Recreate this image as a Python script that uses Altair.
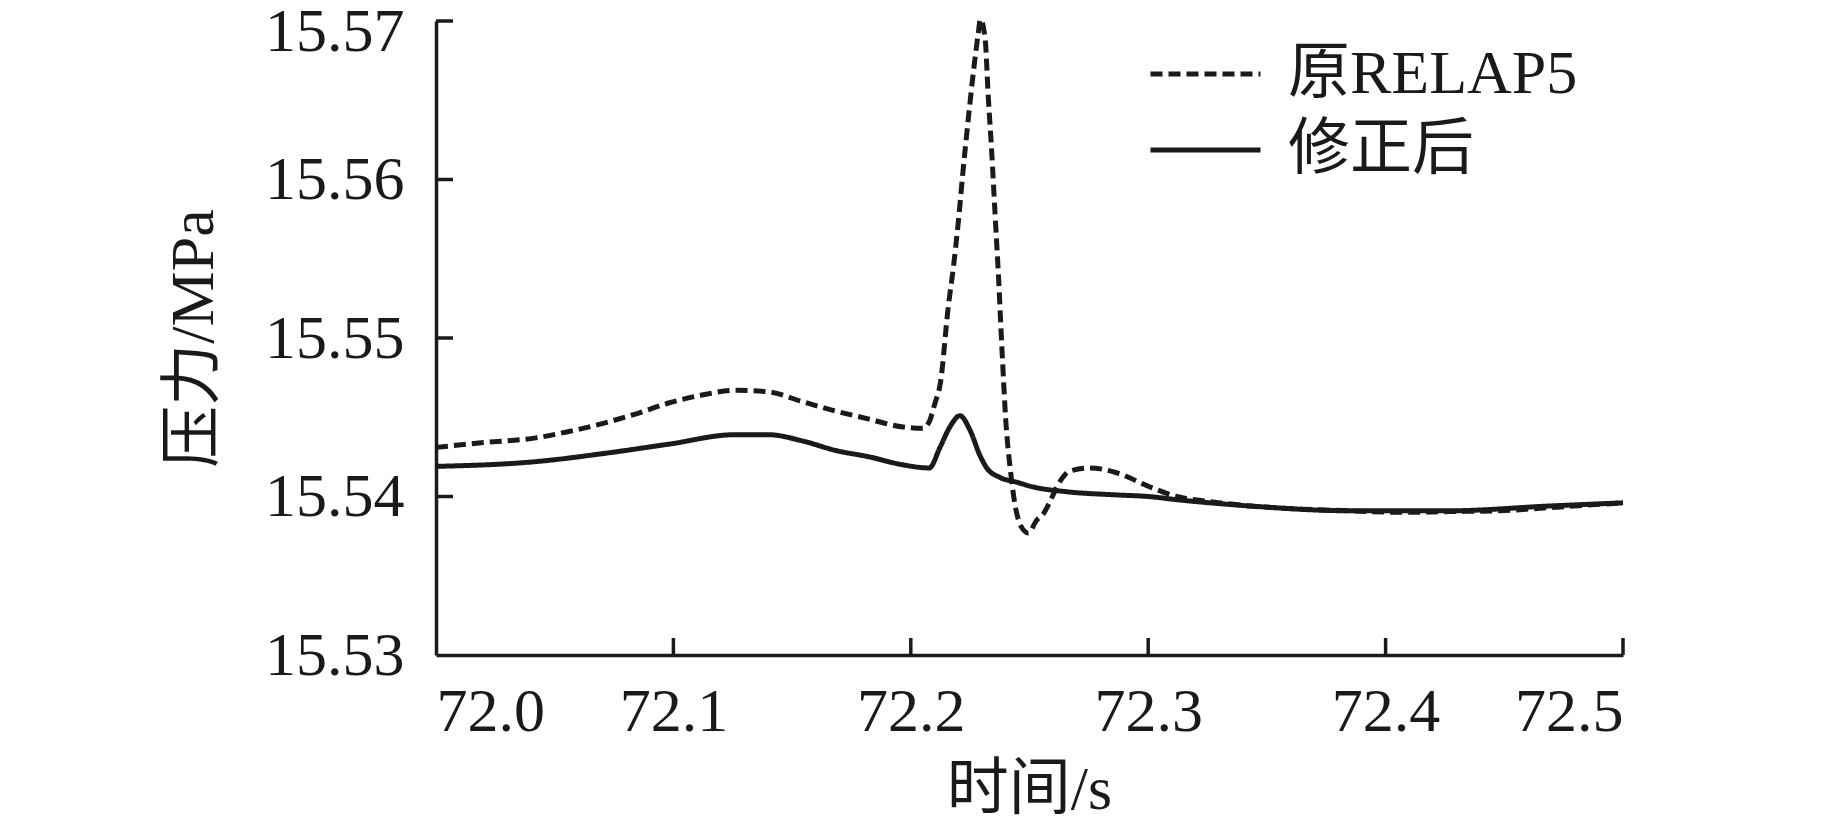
import altair as alt
import pandas as pd

# ---- data ----
series_names = ["原RELAP5", "修正后"]

t_orig = [72.000, 72.020, 72.042, 72.056, 72.070, 72.084, 72.098, 72.112, 72.126, 72.140,
          72.154, 72.168, 72.182, 72.196, 72.205, 72.208, 72.210, 72.2125, 72.2158, 72.2179,
          72.2200, 72.2221, 72.2242, 72.2263, 72.2284, 72.2293, 72.2313, 72.2326, 72.2341,
          72.2355, 72.2369, 72.2383, 72.2401, 72.2420, 72.2440, 72.2465, 72.2495, 72.2530,
          72.2558, 72.2590, 72.2615, 72.2670, 72.2755, 72.2867, 72.3008, 72.3120, 72.3250,
          72.3430, 72.3650, 72.3850, 72.4060, 72.4270, 72.4480, 72.4690, 72.5000]
p_orig = [15.5431, 15.5434, 15.5437, 15.5441, 15.5446, 15.5452, 15.5459, 15.5464, 15.5467, 15.5466,
          15.5460, 15.5454, 15.5449, 15.5444, 15.5443, 15.5448, 15.5458, 15.5472, 15.5520, 15.5544,
          15.5573, 15.5607, 15.5638, 15.5667, 15.5692, 15.5701, 15.5689, 15.5653, 15.5617,
          15.5578, 15.5540, 15.5496, 15.5446, 15.5416, 15.5394, 15.5381, 15.5377, 15.5385,
          15.5389, 15.5398, 15.5406, 15.5416, 15.5418, 15.5415, 15.5406, 15.5400, 15.5397,
          15.5394, 15.5392, 15.5391, 15.5390, 15.53905, 15.5391, 15.5393, 15.5396]

t_mod = [72.000, 72.042, 72.070, 72.098, 72.126, 72.140, 72.1545, 72.1685, 72.1825, 72.1966,
         72.2078, 72.2123, 72.2165, 72.2207, 72.2249, 72.2291, 72.2320, 72.2376, 72.2446,
         72.2516, 72.2657, 72.2867, 72.3000, 72.3120, 72.3430, 72.3850, 72.4270, 72.4690, 72.5000]
p_mod = [15.5419, 15.5422, 15.5427, 15.5433, 15.5439, 15.5439, 15.5435, 15.5429, 15.5425, 15.5420,
         15.5418, 15.5431, 15.5444, 15.5451, 15.5442, 15.5426, 15.5418, 15.5412, 15.5409,
         15.5406, 15.5403, 15.5401, 15.5400, 15.5398, 15.5394, 15.5391, 15.5391, 15.5394, 15.5396]

x_ticks = [72.0, 72.1, 72.2, 72.3, 72.4, 72.5]
y_ticks = [15.53, 15.54, 15.55, 15.56, 15.57]

df = pd.concat([
    pd.DataFrame({"t": t_orig, "p": p_orig, "s": series_names[0]}),
    pd.DataFrame({"t": t_mod, "p": p_mod, "s": series_names[1]}),
])

FONT = "Liberation Serif, Times New Roman, Noto Sans CJK SC"
INK = "#1a1a1a"
W, H = 1187, 634

xscale = alt.Scale(domain=[72.0, 72.5], nice=False, zero=False)
yscale = alt.Scale(domain=[15.53, 15.57], nice=False, zero=False)

lines = alt.Chart(df).mark_line(color=INK, strokeWidth=5, interpolate="monotone", clip=False).encode(
    x=alt.X("t:Q", scale=xscale,
            axis=alt.Axis(values=x_ticks, format=".1f", title="时间/s", ticks=False, grid=False,
                          labelPadding=26, titleX=593, titleY=134, titleBaseline="middle",
                          titleAlign="center")),
    y=alt.Y("p:Q", scale=yscale,
            axis=alt.Axis(values=y_ticks, format=".2f", title="压力/MPa", ticks=False, grid=False,
                          labelPadding=32,
                          labelOffset={"condition": {"test": "datum.value > 15.565", "value": 10},
                                       "value": 0},
                          titleX=-243, titleY=317, titleAngle=270,
                          titleBaseline="middle", titleAlign="center")),
    strokeDash=alt.StrokeDash("s:N", scale=alt.Scale(domain=series_names, range=[[12, 6], [1, 0]]),
                              legend=alt.Legend(title=None, orient="none", legendX=712, legendY=15,
                                                symbolType="stroke", symbolSize=12100,
                                                symbolStrokeWidth=5, symbolStrokeColor=INK,
                                                clipHeight=76, labelFontSize=62, labelFont=FONT,
                                                labelColor=INK, labelOffset=25, labelLimit=0,
                                                padding=0, rowPadding=0)),
)

ytick_rules = alt.Chart(pd.DataFrame({"p": y_ticks[1:]})).mark_rule(color=INK, strokeWidth=3.5).encode(
    y=alt.Y("p:Q", scale=yscale),
    x=alt.value(0), x2=alt.value(17),
)
xtick_rules = alt.Chart(pd.DataFrame({"t": x_ticks[1:]})).mark_rule(color=INK, strokeWidth=3.5).encode(
    x=alt.X("t:Q", scale=xscale),
    y=alt.value(H), y2=alt.value(H - 17),
)

chart = alt.layer(lines, ytick_rules, xtick_rules).properties(
    width=W, height=H,
    autosize=alt.AutoSizeParams(type="none"),
    padding={"left": 428, "top": 13, "right": 212, "bottom": 168},
).configure_view(stroke=None).configure_axis(
    domainColor=INK, domainWidth=3.5, labelFont=FONT, labelFontSize=62, labelColor=INK,
    titleFont=FONT, titleFontSize=62, titleColor=INK, titleFontWeight="normal",
)

chart.save("out.html", embed_options={"renderer": "svg", "actions": False})
